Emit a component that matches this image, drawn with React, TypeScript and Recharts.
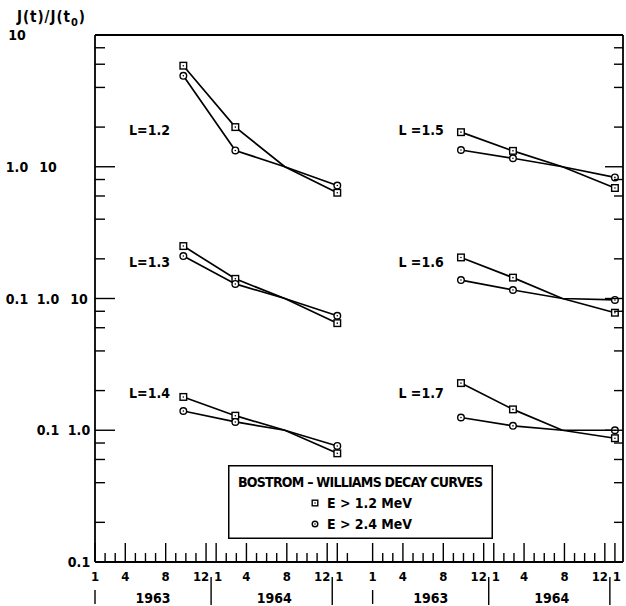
import React from 'react';
import { LineChart, Line, XAxis, YAxis, ReferenceDot, Legend } from 'recharts';

// months counted from 1 Jan 1963 (each panel); the third epoch is t0, where every curve equals 1
const epochs = [8.75, 13.9, 18.8, 24];

// J(t)/J(t0) for each shell: "low" = E > 1.2 MeV (squares), "high" = E > 2.4 MeV (circles)
const L12_low = [5.85, 2.0, 1, 0.635];
const L12_high = [4.9, 1.33, 1, 0.72];
const L13_low = [2.5, 1.41, 1, 0.65];
const L13_high = [2.1, 1.29, 1, 0.74];
const L14_low = [1.79, 1.29, 1, 0.668];
const L14_high = [1.4, 1.156, 1, 0.76];
const L15_low = [1.83, 1.32, 1, 0.69];
const L15_high = [1.34, 1.16, 1, 0.83];
const L16_low = [2.05, 1.44, 1, 0.78];
const L16_high = [1.38, 1.16, 1, 0.975];
const L17_low = [2.28, 1.44, 1, 0.87];
const L17_high = [1.25, 1.08, 1, 1.0];

const shells = ['1.2', '1.3', '1.4', '1.5', '1.6', '1.7'];
const energies = ['E > 1.2 MeV', 'E > 2.4 MeV'];
const monthNames = ['1', '4', '8', '12', '1', '4', '8', '12', '1'];
const namedMonths = [0, 3, 7, 11, 12, 15, 19, 23, 24];
const years = ['1963', '1964'];

// the right-hand panel starts this many months along the shared axis
const PANEL_SHIFT = 27.5;
const X_MAX = 52.3;
// rows of curves are stacked one decade apart
const STACK = [100, 10, 1];
const FONT = "'Liberation Sans Narrow', 'DejaVu Sans Condensed', 'Noto Sans', sans-serif";

const lowSets = [L12_low, L13_low, L14_low, L15_low, L16_low, L17_low];
const highSets = [L12_high, L13_high, L14_high, L15_high, L16_high, L17_high];

const series = shells.flatMap((L, i) => {
  const shift = i < 3 ? 0 : PANEL_SHIFT;
  const k = STACK[i % 3];
  return [lowSets[i], highSets[i]].map((vals, e) => ({
    key: `L${L}-${e}`,
    name: energies[e],
    marker: e === 0 ? 'square' : 'circle',
    data: vals.map((v, j) => ({ x: epochs[j] + shift, y: v * k, mark: j !== 2 })),
  }));
});

const shellLabels = shells.map((L, i) => ({
  text: i < 3 ? `L=${L}` : `L =${L}`,
  x: i < 3 ? 5.4 : PANEL_SHIFT + 4.8,
  y: 1.9 * STACK[i % 3],
}));

type XTick = { x: number; month?: boolean; label?: string; bar?: 'full' | 'year'; year?: string; nudge?: number };
const xTicks: XTick[] = [];
[0, PANEL_SHIFT].forEach((start, p) => {
  const last = p === 0 ? 25 : 24;
  for (let m = 0; m <= last; m++) {
    const n = namedMonths.indexOf(m);
    // "12" and the following "1" are pushed apart around the year divider
    const nudge = m === 11 || m === 23 ? -5 : m === 12 || m === 24 ? 2 : 0;
    xTicks.push({
      x: start + m,
      month: true,
      label: n >= 0 ? monthNames[n] : undefined,
      bar: m === 0 ? 'year' : undefined,
      nudge,
    });
  }
  xTicks.push({ x: start + 11.5, bar: 'full' }, { x: start + 23.5, bar: 'full' });
  years.forEach((y, k) => xTicks.push({ x: start + 5.75 + 12 * k, year: y }));
});
xTicks.sort((a, b) => a.x - b.x);
const bottomTickValues = xTicks.map((t) => t.x);
const topTickValues = xTicks.filter((t) => t.month).map((t) => t.x);

const yTickValues: number[] = [];
[0.1, 1, 10, 100].forEach((d) => [1, 2, 4, 6, 8].forEach((m) => yTickValues.push(+(d * m).toPrecision(3))));
yTickValues.push(1000);

const isDecade = (v: number) => Math.abs(Math.log10(v) - Math.round(Math.log10(v))) < 1e-6;
const fmt = (r: number) => (r > 9.9 ? '10' : r > 0.99 ? '1.0' : '0.1');
const findTick = (v: number) => xTicks.find((t) => Math.abs(t.x - v) < 1e-6);

const txt = { fontFamily: FONT, fontWeight: 700, fill: '#000' } as const;

const Marker = ({ cx, cy, kind, s }: { cx: number; cy: number; kind: string; s: number }) =>
  kind === 'square' ? (
    <g>
      <rect x={cx - s} y={cy - s} width={2 * s} height={2 * s} fill="#fff" stroke="#000" strokeWidth={1.4} />
      <circle cx={cx} cy={cy} r={0.8} fill="#000" />
    </g>
  ) : (
    <g>
      <circle cx={cx} cy={cy} r={s} fill="#fff" stroke="#000" strokeWidth={1.4} />
      <circle cx={cx} cy={cy} r={0.8} fill="#000" />
    </g>
  );

const LeftTick = (props: any) => {
  const { x, y, payload } = props;
  const v = payload.value;
  const major = isDecade(v);
  return (
    <g>
      <line x1={x} y1={y} x2={x + (major ? 20 : 10)} y2={y} stroke="#000" strokeWidth={1.4} />
      {major &&
        STACK.map((k, c) => {
          const r = v / k;
          if (r < 0.099 || r > 10.01) return null;
          return (
            <text key={c} x={x - 78 + 31 * c} y={y + 5} textAnchor="middle" fontSize={14} {...txt}>
              {fmt(r)}
            </text>
          );
        })}
    </g>
  );
};

const RightTick = (props: any) => {
  const { x, y, payload } = props;
  const major = isDecade(payload.value);
  return <line x1={x} y1={y} x2={x - (major ? 18 : 9)} y2={y} stroke="#000" strokeWidth={1.4} />;
};

const TopTick = (props: any) => {
  const { x, y, payload } = props;
  const t = findTick(payload.value);
  return <line x1={x} y1={y} x2={x} y2={y + (t && t.label ? 20 : 10)} stroke="#000" strokeWidth={1.4} />;
};

const BottomTick = (props: any) => {
  const { x, y, payload } = props;
  const t = findTick(payload.value);
  if (!t) return <g />;
  return (
    <g>
      {t.month && <line x1={x} y1={y} x2={x} y2={y - (t.label ? 19 : 9)} stroke="#000" strokeWidth={1.4} />}
      {t.label && (
        <text x={x + (t.nudge || 0)} y={y + 19} textAnchor="middle" fontSize={13} {...txt}>
          {t.label}
        </text>
      )}
      {t.bar === 'full' && <line x1={x} y1={y + 15} x2={x} y2={y + 43} stroke="#000" strokeWidth={1.4} />}
      {t.bar === 'year' && <line x1={x} y1={y + 28} x2={x} y2={y + 42} stroke="#000" strokeWidth={1.4} />}
      {t.year && (
        <text x={x} y={y + 41} textAnchor="middle" fontSize={14} {...txt}>
          {t.year}
        </text>
      )}
    </g>
  );
};

const Title = (props: any) => {
  const { viewBox } = props;
  return (
    <text x={viewBox.x + 17} y={viewBox.y - 13} fontSize={15} textLength={68} lengthAdjust="spacing" {...txt}>
      J(t)/J(t
      <tspan fontSize={11} dy={4}>0</tspan>
      <tspan dy={-4}>)</tspan>
    </text>
  );
};

const LegendBox = () => (
  <svg width={265} height={74} style={{ display: 'block' }}>
    <rect x={0.75} y={0.75} width={263.5} height={72.5} fill="#fff" stroke="#000" strokeWidth={1.5} />
    <text x={10} y={22} fontSize={14} textLength={245} lengthAdjust="spacing" {...txt}>
      BOSTROM – WILLIAMS DECAY CURVES
    </text>
    {energies.map((e, i) => (
      <g key={e}>
        <Marker cx={87} cy={38 + 21 * i} kind={i === 0 ? 'square' : 'circle'} s={2.8} />
        <text x={99} y={43 + 21 * i} fontSize={14} textLength={85} lengthAdjust="spacing" {...txt}>
          {e}
        </text>
      </g>
    ))}
  </svg>
);

export default function App() {
  return (
    <div style={{ position: 'absolute', left: 0, top: 0, width: 626, height: 606, background: '#fff' }}>
      <LineChart width={626} height={606} margin={{ top: 0, right: 0, bottom: 0, left: 0 }}>
        <XAxis
          type="number"
          dataKey="x"
          domain={[0, X_MAX]}
          allowDataOverflow
          ticks={bottomTickValues}
          interval={0}
          height={44}
          tickSize={0}
          tickMargin={0}
          tickLine={false}
          tick={<BottomTick />}
          axisLine={{ stroke: '#000', strokeWidth: 1.8 }}
        />
        <XAxis
          xAxisId="top"
          orientation="top"
          type="number"
          domain={[0, X_MAX]}
          allowDataOverflow
          ticks={topTickValues}
          interval={0}
          height={35}
          tickSize={0}
          tickMargin={0}
          tickLine={false}
          tick={<TopTick />}
          axisLine={{ stroke: '#000', strokeWidth: 1.8 }}
        />
        <YAxis
          type="number"
          scale="log"
          domain={[0.1, 1000]}
          allowDataOverflow
          ticks={yTickValues}
          interval={0}
          width={95}
          tickSize={0}
          tickMargin={0}
          tickLine={false}
          tick={<LeftTick />}
          axisLine={{ stroke: '#000', strokeWidth: 1.8 }}
          label={Title}
        />
        <YAxis
          yAxisId="right"
          orientation="right"
          type="number"
          scale="log"
          domain={[0.1, 1000]}
          allowDataOverflow
          ticks={yTickValues}
          interval={0}
          width={3}
          tickSize={0}
          tickMargin={0}
          tickLine={false}
          tick={<RightTick />}
          axisLine={{ stroke: '#000', strokeWidth: 1.8 }}
        />
        {series.map((s) => (
          <Line
            key={s.key}
            data={s.data}
            dataKey="y"
            name={s.name}
            type="linear"
            stroke="#000"
            strokeWidth={1.7}
            isAnimationActive={false}
            dot={(p: any) =>
              p.payload.mark ? (
                <Marker key={`${s.key}-${p.index}`} cx={p.cx} cy={p.cy} kind={s.marker} s={3.3} />
              ) : (
                <g key={`${s.key}-${p.index}`} />
              )
            }
            activeDot={false}
          />
        ))}
        {shellLabels.map((l) => (
          <ReferenceDot
            key={l.text}
            x={l.x}
            y={l.y}
            r={1}
            fill="none"
            stroke="none"
            label={{ value: l.text, position: 'center', fontSize: 14, ...txt }}
          />
        ))}
        <Legend
          layout="horizontal"
          verticalAlign="middle"
          align="center"
          content={<LegendBox />}
          wrapperStyle={{ left: 228, top: 465, width: 265, height: 74 }}
        />
      </LineChart>
    </div>
  );
}
